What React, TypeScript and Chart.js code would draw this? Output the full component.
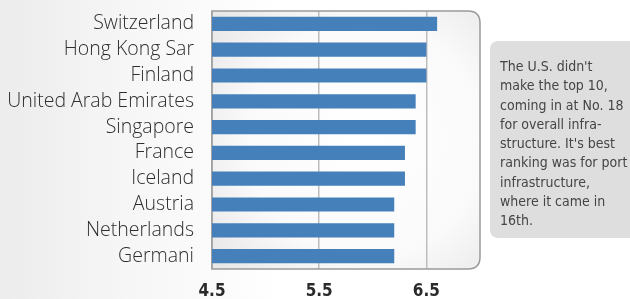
import React, { useEffect, useRef } from "react";
import { Chart, registerables } from "chart.js";

Chart.register(...registerables);

const countries = [
  "Switzerland",
  "Hong Kong Sar",
  "Finland",
  "United Arab Emirates",
  "Singapore",
  "France",
  "Iceland",
  "Austria",
  "Netherlands",
  "Germani",
];
const scores = [6.6, 6.5, 6.5, 6.4, 6.4, 6.3, 6.3, 6.2, 6.2, 6.2];
const tickValues = [4.5, 5.5, 6.5];
const axisMin = 4.5;
const axisMax = 7.0;
const noteLines = [
  "The U.S. didn't",
  "make the top 10,",
  "coming in at No. 18",
  "for overall infra-",
  "structure. It's best",
  "ranking was for port",
  "infrastructure,",
  "where it came in",
  "16th.",
];

const FONT = "'DejaVu Sans Condensed', 'Liberation Sans Narrow', 'DejaVu Sans', sans-serif";
const LABEL_FONT = "'Open Sans', 'DejaVu Sans', sans-serif";

function roundRectPath(ctx: CanvasRenderingContext2D, l: number, t: number, r: number, b: number, rad: number) {
  ctx.beginPath();
  ctx.moveTo(l, t);
  ctx.lineTo(r - rad, t);
  ctx.quadraticCurveTo(r, t, r, t + rad);
  ctx.lineTo(r, b - rad);
  ctx.quadraticCurveTo(r, b, r - rad, b);
  ctx.lineTo(l, b);
  ctx.closePath();
}

const plotBg = {
  id: "plotBg",
  beforeDraw(chart: any) {
    const { ctx, chartArea } = chart;
    const { left, top, right, bottom } = chartArea;
    ctx.save();
    const cx = (left + right) / 2 + 20;
    const cy = (top + bottom) / 2;
    const g = ctx.createRadialGradient(cx, cy, 10, cx, cy, 190);
    g.addColorStop(0, "#ffffff");
    g.addColorStop(0.6, "#fafafa");
    g.addColorStop(1, "#e8e8e8");
    roundRectPath(ctx, left, top, right, bottom, 12);
    ctx.fillStyle = g;
    ctx.fill();
    ctx.restore();
  },
  beforeDatasetsDraw(chart: any) {
    const { ctx, chartArea } = chart;
    const { left, top, right, bottom } = chartArea;
    ctx.save();
    roundRectPath(ctx, left, top, right, bottom, 12);
    ctx.strokeStyle = "#9a9a9a";
    ctx.lineWidth = 1.5;
    ctx.stroke();
    ctx.restore();
  },
};

function BarChart() {
  const ref = useRef<HTMLCanvasElement>(null);
  useEffect(() => {
    if (!ref.current) return;
    const chart = new Chart(ref.current, {
      type: "bar",
      data: {
        labels: countries,
        datasets: [
          {
            data: scores,
            backgroundColor: "#4680bb",
            borderWidth: 0,
            barPercentage: 0.55,
            categoryPercentage: 1,
          },
        ],
      },
      options: {
        indexAxis: "y",
        animation: false,
        responsive: false,
        maintainAspectRatio: false,
        layout: { padding: { top: 11, right: 150, bottom: 0, left: 0 } },
        plugins: { legend: { display: false }, tooltip: { enabled: false } },
        scales: {
          x: {
            type: "linear",
            min: axisMin,
            max: axisMax,
            afterBuildTicks: (scale: any) => {
              scale.ticks = tickValues.map((v) => ({ value: v }));
            },
            afterFit: (scale: any) => {
              scale.height = 30;
              scale.paddingLeft = 0;
              scale.paddingRight = 0;
            },
            border: { display: false },
            grid: { color: "#bdbdbd", lineWidth: 1.5, drawTicks: false },
            ticks: {
              padding: 12,
              color: "#2a2a2a",
              font: { family: FONT, size: 17, weight: "bold" },
              callback: (v: any) => Number(v).toFixed(1),
            },
          },
          y: {
            afterFit: (scale: any) => {
              scale.width = 212;
              scale.paddingTop = 0;
              scale.paddingBottom = 0;
            },
            border: { display: false },
            grid: { display: false, drawTicks: false },
            ticks: {
              autoSkip: false,
              padding: 18,
              color: "#2e2e2e",
              font: { family: LABEL_FONT, size: 19.5, weight: "300" },
            },
          },
        },
      },
      plugins: [plotBg],
    });
    return () => chart.destroy();
  }, []);
  return <canvas ref={ref} width={630} height={299} style={{ position: "absolute", left: 0, top: 0 }} />;
}

export default function App() {
  return (
    <div
      style={{
        position: "fixed",
        left: 0,
        top: 0,
        width: 630,
        height: 299,
        overflow: "hidden",
        background: "linear-gradient(to right, #ececec 0%, #f6f6f6 20%, #ffffff 45%, #ffffff 100%)",
      }}
    >
      <div
        style={{
          position: "absolute",
          left: 490,
          top: 41,
          width: 160,
          height: 197,
          background: "#dedede",
          borderRadius: 8,
        }}
      />
      <BarChart />
      <div
        style={{
          position: "absolute",
          left: 500,
          top: 57,
          fontFamily: FONT,
          fontSize: 14,
          lineHeight: "19.3px",
          color: "#454545",
          whiteSpace: "nowrap",
        }}
      >
        {noteLines.map((l, i) => (
          <div key={i}>{l}</div>
        ))}
      </div>
    </div>
  );
}
